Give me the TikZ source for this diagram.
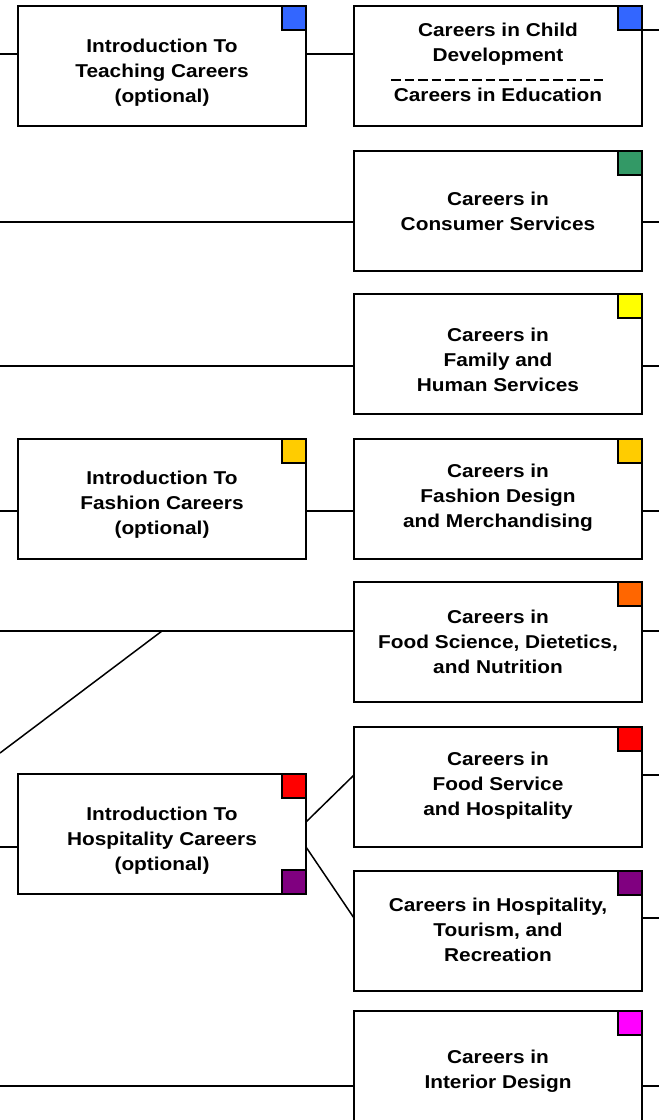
\documentclass[tikz,border=0pt]{standalone}
\usepackage{fontspec}
\setmainfont{Liberation Sans}[FakeStretch=1.12]
\usepackage{tikz}
\definecolor{edublue}{HTML}{3366FF}
\definecolor{consgreen}{HTML}{339966}
\definecolor{famyellow}{HTML}{FFFF00}
\definecolor{fashgold}{HTML}{FFCC00}
\definecolor{foodorange}{HTML}{FF6600}
\definecolor{servred}{HTML}{FF0000}
\definecolor{hosppurple}{HTML}{800080}
\definecolor{intmagenta}{HTML}{FF00FF}
\tikzstyle{careerbox}=[rectangle,draw,line width=2bp,fill=white,minimum width=288bp,minimum height=120bp,inner sep=0pt,outer sep=0pt]
\tikzstyle{careertext}=[align=center,inner sep=0pt,font=\bfseries\fontsize{18.6bp}{25bp}\selectfont]
\tikzstyle{swatch}=[rectangle,draw,line width=1.5bp,minimum size=24bp,inner sep=0pt,outer sep=0pt]
\newcommand{\careerbox}{\node[careerbox]}
\newcommand{\careertext}{\node[careertext]}

\begin{document}
\begin{tikzpicture}[x=1bp,y=-1bp,line width=1.5bp]
			\useasboundingbox (0,0) rectangle (659,1120);
			% % % % % % % % % % % % % % % % % % % % % % % % % % % % %
			\careerbox (teach) at (162,66) {};
			\careerbox (fashi) at (162,499) {};
			\careerbox (hospi) at (162,834) {};
			%*********************
			\careerbox (child) at (498,66) {};
			\careerbox (cons) at (498,211) {};
			\careerbox (fam) at (498,354) {};
			\careerbox (fashd) at (498,499) {};
			\careerbox (fsci) at (498,642) {};
			\careerbox (fserv) at (498,787) {};
			\careerbox (tour) at (498,931) {};
			\careerbox (inter) at (498,1071) {};
			% % % % % % % % % % % % % % % % %
			\node[swatch,fill=edublue,anchor=north east] (sq1) at (teach.north east) {};
			\node[swatch,fill=edublue,anchor=north east] (sq2) at (child.north east) {};
			\node[swatch,fill=consgreen,anchor=north east] (sq3) at (cons.north east) {};
			\node[swatch,fill=famyellow,anchor=north east] (sq4) at (fam.north east) {};
			\node[swatch,fill=fashgold,anchor=north east] (sq5) at (fashi.north east) {};
			\node[swatch,fill=fashgold,anchor=north east] (sq6) at (fashd.north east) {};
			\node[swatch,fill=foodorange,anchor=north east] (sq7) at (fsci.north east) {};
			\node[swatch,fill=servred,anchor=north east] (sq8) at (hospi.north east) {};
			\node[swatch,fill=hosppurple,anchor=south east] (sq9) at (hospi.south east) {};
			\node[swatch,fill=servred,anchor=north east] (sq10) at (fserv.north east) {};
			\node[swatch,fill=hosppurple,anchor=north east] (sq11) at (tour.north east) {};
			\node[swatch,fill=intmagenta,anchor=north east] (sq12) at (inter.north east) {};
			% % % % % % % % % % % % % % % % %
			\careertext (t1) at (162,73) {Introduction To\\Teaching Careers\\(optional)};
			\careertext (t2) at (498,44) {Careers in Child\\Development};
			\careertext (t3) at (498,95) {Careers in Education};
			\careertext (t4) at (498,211) {Careers in\\Consumer Services};
			\careertext (t5) at (498,360) {Careers in\\Family and\\Human Services};
			\careertext (t6) at (162,505) {Introduction To\\Fashion Careers\\(optional)};
			\careertext (t7) at (498,498) {Careers in\\Fashion Design\\and Merchandising};
			\careertext (t8) at (498,642) {Careers in\\Food Science, Dietetics,\\and Nutrition};
			\careertext (t9) at (162,841) {Introduction To\\Hospitality Careers\\(optional)};
			\careertext (t10) at (498,786) {Careers in\\Food Service\\and Hospitality};
			\careertext (t11) at (498,930) {Careers in Hospitality,\\Tourism, and\\Recreation};
			\careertext (t12) at (498,1071) {Careers in\\Interior Design};
			\draw[line width=2bp,dash pattern=on 9.5bp off 4bp] (391,80) -- (606,80);
			%*********************
			\coordinate (l0) at (0,54);
			\coordinate (l1) at (0,222);
			\coordinate (l2) at (0,366);
			\coordinate (l3) at (0,511);
			\coordinate (l4) at (0,631);
			\coordinate (l5) at (0,753);
			\coordinate (l6) at (0,847);
			\coordinate (l7) at (0,1086);
			\coordinate (k4) at (162,631);
			\coordinate (h1) at (hospi.east |- 0,822);
			\coordinate (h2) at (hospi.east |- 0,847);
			\coordinate (r0) at (659,30);
			\coordinate (r1) at (659,222);
			\coordinate (r2) at (659,366);
			\coordinate (r3) at (659,511);
			\coordinate (r4) at (659,631);
			\coordinate (r5) at (659,775);
			\coordinate (r6) at (659,918);
			\coordinate (r7) at (659,1086);
			\path[draw]
			% % % % % % % % % % % % % % % % %
			(l0) edge [] (l0 -| teach.west)
			(l0 -| teach.east) edge [] (l0 -| child.west)
			(l1) edge [] (l1 -| cons.west)
			(l2) edge [] (l2 -| fam.west)
			(l3) edge [] (l3 -| fashi.west)
			(l3 -| fashi.east) edge [] (l3 -| fashd.west)
			(l4) edge [] (l4 -| fsci.west)
			(l5) edge [] (k4)
			(l6) edge [] (l6 -| hospi.west)
			(h1) edge [] (r5 -| fserv.west)
			(h2) edge [] (r6 -| tour.west)
			(l7) edge [] (l7 -| inter.west)
			%**************
			(r0 -| child.east) edge [] (r0)
			(r1 -| cons.east) edge [] (r1)
			(r2 -| fam.east) edge [] (r2)
			(r3 -| fashd.east) edge [] (r3)
			(r4 -| fsci.east) edge [] (r4)
			(r5 -| fserv.east) edge [] (r5)
			(r6 -| tour.east) edge [] (r6)
			(r7 -| inter.east) edge [] (r7)
			;
\end{tikzpicture}
\end{document}
